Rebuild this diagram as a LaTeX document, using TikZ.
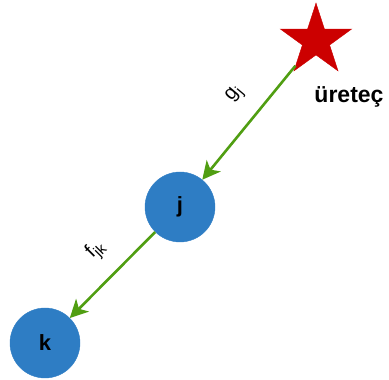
\documentclass[tikz,border=0pt]{standalone}
\usepackage{fontspec}
\setmainfont{Liberation Sans}
\setsansfont{Liberation Sans}
\usetikzlibrary{shapes.geometric,arrows.meta}
\definecolor{arrowgreen}{RGB}{80,158,18}
\definecolor{nodeblue}{RGB}{46,125,196}
\definecolor{starred}{RGB}{204,0,0}
\newcommand{\lblsub}[1]{\raisebox{-4.5pt}{\fontsize{15}{18}\selectfont #1}}
\begin{document}
\begin{tikzpicture}[x=1pt,y=1pt,
  vertex/.style={circle, fill=nodeblue, draw=nodeblue, minimum size=70pt, inner sep=0pt,
    font=\bfseries\fontsize{22}{26}\selectfont},
  conn/.style={draw=arrowgreen, line width=2.6pt, -{Stealth[length=18pt,width=18pt,inset=5pt]}},
  edgelabel/.style={font=\fontsize{20}{24}\selectfont, inner sep=0pt}]
\useasboundingbox (0,0) rectangle (389,380);
\node[star, star points=5, star point ratio=2.618, minimum size=75pt, inner sep=0pt,
      fill=starred, draw=starred] (gen) at (316,339.4) {};
\node[vertex] (j) at (180,173) {j};
\node[vertex] (k) at (45,37) {k};
\node[font=\bfseries\fontsize{23}{27}\selectfont, inner sep=0pt] (gl) at (349,283) {üreteç};
\draw[conn] (gen) -- (j);
\draw[conn] (j) -- (k);
\node[edgelabel, rotate=50] (lg) at (235,285) {g\lblsub{j}};
\node[edgelabel, rotate=45] (lf) at (96,130) {f\lblsub{jk}};
\end{tikzpicture}
\end{document}
